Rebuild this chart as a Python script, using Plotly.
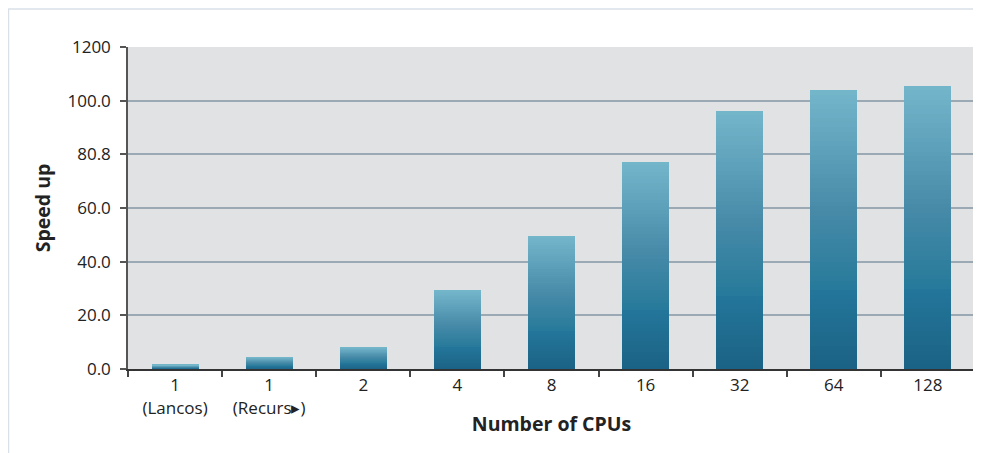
import plotly.graph_objects as go
from plotly.colors import sample_colorscale

categories = ["1<br>(Lancos)", "1<br>(Recurs\u25b8)", "2", "4", "8", "16", "32", "64", "128"]
speedup = [1.5, 4.4, 8.2, 29.3, 49.5, 77.2, 96.3, 104.0, 105.6]
y_tickvals = [0, 20, 40, 60, 80, 100, 120]
y_ticktext = ["0.0", "20.0", "40.0", "60.0", "80.8", "100.0", "1200"]

# vertical gradient (bottom -> top) of each bar, rendered as stacked slices
gradient = [
    [0.0, "#1b6285"],
    [0.28, "#23769a"],
    [0.29, "#277a9b"],
    [0.55, "#4589a7"],
    [0.8, "#5fa2bb"],
    [1.0, "#74b7cb"],
]
N_SLICES = 60
slice_colors = sample_colorscale(gradient, [(k + 0.5) / N_SLICES for k in range(N_SLICES)])

font_family = "Open Sans, Noto Sans, sans-serif"
text_color = "#222222"

fig = go.Figure()
for k in range(N_SLICES):
    fig.add_trace(go.Bar(
        x=categories,
        y=[v / N_SLICES for v in speedup],
        marker=dict(color=slice_colors[k], line=dict(width=0)),
        showlegend=False,
        hoverinfo="skip",
    ))

fig.update_layout(
    width=973, height=445,
    margin=dict(l=120, r=6, t=39, b=84),
    paper_bgcolor="white",
    plot_bgcolor="#e1e2e4",
    barmode="stack",
    bargap=0.5,
    font=dict(family=font_family, size=17, color=text_color),
    xaxis=dict(
        type="category",
        showgrid=False,
        showline=True, linecolor="#333333", linewidth=2,
        ticks="outside", tickson="boundaries", ticklen=6, tickwidth=1.5, tickcolor="#444444",
        tickfont=dict(size=17, color=text_color),
        title=dict(text="<b>Number of CPUs</b>", font=dict(size=19.5, color=text_color), standoff=0),
    ),
    yaxis=dict(
        range=[0, 120],
        tickvals=y_tickvals, ticktext=y_ticktext,
        showgrid=True, gridcolor="#9aa9b3", gridwidth=1.5,
        zeroline=False,
        showline=True, linecolor="#555555", linewidth=1.5,
        ticks="outside", ticklen=6, tickwidth=1.5, tickcolor="#555555",
        ticklabelstandoff=6,
        tickfont=dict(size=17, color=text_color),
        title=dict(text="<b>Speed up</b>", font=dict(size=19.5, color=text_color), standoff=12),
    ),
    shapes=[dict(
        type="rect", xref="paper", yref="paper",
        x0=-0.1411, x1=1.0012, y0=-0.3, y1=1.118,
        line=dict(color="#d9e1e7", width=1.5), layer="below",
    )],
)

fig.write_html("out.html")
